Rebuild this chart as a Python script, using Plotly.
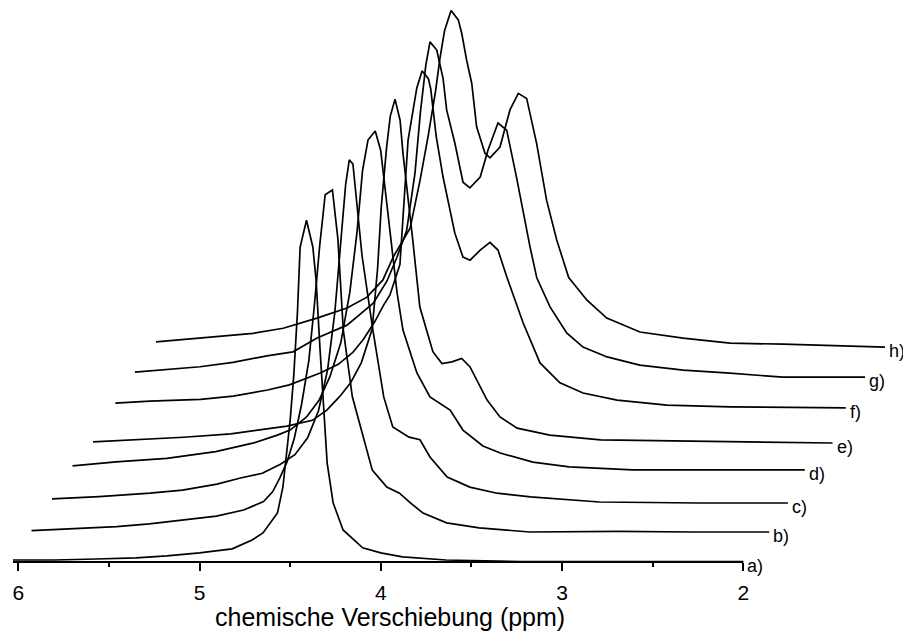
import plotly.graph_objects as go

# Spectrum labels (bottom to top)
labels = ["a)", "b)", "c)", "d)", "e)", "f)", "g)", "h)"]

# Each spectrum: chemical shift (ppm, own scale) and normalised intensity (main peak = 100)
ppm_a = [6.03, 5.80, 5.57, 5.35, 5.18, 5.00, 4.82, 4.71, 4.65, 4.57, 4.54, 4.50, 4.48, 4.46, 4.445,
         4.41, 4.375, 4.357, 4.335, 4.324, 4.296, 4.263, 4.208, 4.10, 4.00, 3.88, 3.64, 3.23, 2.80, 2.40, 2.00]
int_a = [0, 0, 0.3, 0.6, 1.2, 2.1, 3.3, 5.9, 8.0, 13.9, 21.6, 41.4, 54.7, 73.1, 92.6,
         100.5, 92.6, 82.8, 62.1, 53.3, 28.7, 16.9, 8.9, 3.6, 2.1, 0.9, 0, -0.5, -0.4, -0.5, -0.5]

ppm_b = [6.04, 5.85, 5.57, 5.39, 5.20, 5.02, 4.87, 4.76, 4.71, 4.67, 4.63, 4.59, 4.55, 4.51, 4.48, 4.45,
         4.42, 4.38, 4.35, 4.32, 4.27, 4.21, 4.16, 4.08, 4.01, 3.95, 3.88, 3.75, 3.57, 3.29, 2.80, 2.40, 1.97]
int_b = [-0.4, 0, 0.8, 1.6, 2.8, 3.9, 5.7, 8.2, 11.1, 15.2, 20, 27, 37, 50, 66, 84,
         99, 100.4, 86, 59, 39.2, 27.4, 17.5, 12.5, 10.7, 7.8, 4.8, 1.9, 0.4, -0.8, -0.6, -0.8, -0.8]

ppm_c = [6.04, 5.78, 5.50, 5.32, 5.13, 5.00, 4.88, 4.78, 4.70, 4.63, 4.57, 4.52, 4.48, 4.45, 4.42, 4.40,
         4.38, 4.33, 4.27, 4.21, 4.16, 4.07, 4.01, 3.955, 3.86, 3.735, 3.585, 3.40, 3.02, 2.47, 1.98]
int_c = [-0.1, 0.6, 1.6, 2.5, 4.3, 6.1, 7.5, 10.2, 13, 18, 26, 38, 55, 75, 93, 100.2,
         99, 72, 49.9, 30.1, 21.2, 18.2, 17.4, 12.3, 6.4, 3.4, 1.6, 0.5, -1.0, -1.3, -1.3]

ppm_d = [6.04, 5.80, 5.52, 5.25, 5.04, 4.91, 4.84, 4.75, 4.68, 4.62, 4.56, 4.51, 4.47, 4.44, 4.41, 4.37,
         4.34, 4.30, 4.25, 4.217, 4.16, 4.14, 4.068, 3.996, 3.957, 3.886, 3.776, 3.68, 3.50, 3.30, 2.95, 2.41, 2.00]
int_d = [0.6, 1.8, 2.8, 4.8, 7.4, 9.7, 11.2, 15, 20, 27, 37, 52, 70, 88, 97, 99.7,
         94, 75, 52, 40.8, 31, 28.1, 21, 18.6, 17.1, 11.2, 6.5, 4.4, 1.7, 0.3, -0.6, -0.6, -0.6]

ppm_e = [6.04, 5.82, 5.54, 5.28, 5.13, 4.97, 4.83, 4.75, 4.68, 4.62, 4.56, 4.50, 4.47, 4.45, 4.42, 4.40,
         4.374, 4.346, 4.33, 4.308, 4.276, 4.237, 4.20, 4.165, 4.115, 4.06, 4.006, 3.96, 3.866, 3.795,
         3.70, 3.52, 3.24, 2.69, 1.96]
int_e = [-1.4, -0.8, 0, 1.0, 2.2, 3.3, 5, 8, 12, 16, 22, 32, 50, 68, 86, 95,
         100, 93.8, 84, 74, 58.3, 38.5, 31.7, 25.3, 21.8, 22.3, 23.3, 20.8, 11, 6,
         2.7, 0.65, -0.8, -1.1, -1.7]

ppm_f = [6.03, 5.84, 5.56, 5.38, 5.19, 5.07, 4.90, 4.80, 4.72, 4.66, 4.60, 4.55, 4.515, 4.46, 4.415,
         4.388, 4.367, 4.338, 4.303, 4.29, 4.26, 4.222, 4.157, 4.112, 4.073, 4.017, 3.963, 3.919, 3.87,
         3.78, 3.687, 3.577, 3.45, 3.262, 2.987, 2.64, 2.00]
int_f = [1.0, 1.6, 2.1, 3.1, 4.9, 6.4, 9.9, 12.5, 16, 20, 25, 30, 33, 42, 78.8,
         87.7, 94.2, 99.3, 97, 94, 80, 67.9, 51.3, 44.2, 43.3, 46.3, 48.6, 46.3, 38.3,
         24.7, 12.9, 7.0, 4.0, 1.9, 0.4, -0.1, -0.4]

ppm_g = [6.035, 5.86, 5.676, 5.494, 5.307, 5.163, 5.03, 4.865, 4.72, 4.645, 4.59, 4.536, 4.49, 4.46,
         4.43, 4.407, 4.37, 4.335, 4.315, 4.27, 4.225, 4.187, 4.13, 4.087, 4.032, 3.984, 3.93, 3.855,
         3.818, 3.745, 3.653, 3.563, 3.43, 3.25, 3.01, 2.752, 2.46, 2.007]
int_g = [1.1, 1.9, 2.7, 4.0, 5.9, 7.1, 11.2, 15, 21.5, 28, 35, 43, 60, 78,
         92, 98.8, 96.4, 88, 78.6, 68.9, 57.3, 55.6, 58.8, 66.8, 74.8, 72.7, 58.8, 38.1,
         29, 20.4, 12.7, 8.5, 5.6, 3.2, 1.7, 0.8, -0.4, -0.4]

ppm_h = [6.032, 5.863, 5.70, 5.497, 5.33, 5.144, 4.978, 4.868, 4.78, 4.724, 4.63, 4.575, 4.53, 4.49,
         4.465, 4.44, 4.404, 4.364, 4.345, 4.318, 4.29, 4.263, 4.217, 4.189, 4.134, 4.079, 4.033, 3.987,
         3.932, 3.877, 3.821, 3.755, 3.654, 3.545, 3.362, 3.124, 2.865, 2.572, 2.01]
int_h = [1.0, 1.7, 2.5, 3.5, 5.0, 8, 11, 14.2, 19.3, 26, 34.6, 48.8, 62, 75,
         85, 93, 99, 96.2, 92.2, 84.3, 77.5, 64.6, 56.8, 55.4, 58.6, 69.6, 74.5, 73,
         59.7, 42.9, 31.1, 20, 13.3, 8, 3.9, 2.1, 0.6, 0.3, -0.6]

spectra_ppm = [ppm_a, ppm_b, ppm_c, ppm_d, ppm_e, ppm_f, ppm_g, ppm_h]
spectra_int = [int_a, int_b, int_c, int_d, int_e, int_f, int_g, int_h]

# Axis ticks
major_ticks = [6, 5, 4, 3, 2]
major_text = ["6", "5", "4", "3", "2"]
minor_ticks = [5.5, 4.5, 3.5, 2.5]

# Waterfall offsets per spectrum
DX = 0.1131
DY = 9.08

X_LEFT = 6.0292
X_RIGHT = 1.1906

FONT = "Liberation Sans, Arial, sans-serif"

fig = go.Figure()
for i, (p, v) in enumerate(zip(spectra_ppm, spectra_int)):
    xs = [pp - i * DX for pp in p]
    ys = [vv + i * DY for vv in v]
    fig.add_trace(go.Scatter(x=xs, y=ys, mode="lines",
                             line=dict(color="black", width=1.7),
                             hoverinfo="skip", showlegend=False))
    fig.add_annotation(x=xs[-1], y=ys[-1], text=labels[i], showarrow=False,
                       xanchor="left", yanchor="middle", xshift=2, yshift=-4,
                       font=dict(family=FONT, size=18, color="black"))

fig.add_shape(type="line", xref="x", yref="paper", x0=X_LEFT, x1=2.0, y0=0, y1=0,
              line=dict(color="black", width=2))

fig.add_annotation(xref="paper", yref="paper", x=0.43, y=-0.0993,
                   text="chemische Verschiebung (ppm)", showarrow=False,
                   xanchor="center", yanchor="middle",
                   font=dict(family=FONT, size=25, color="black"))

fig.update_layout(
    width=903, height=625,
    margin=dict(l=5, r=21, t=0, b=71, pad=0),
    paper_bgcolor="white", plot_bgcolor="white",
    xaxis=dict(range=[X_LEFT, X_RIGHT], showgrid=False, zeroline=False, showline=False,
               ticks="outside", ticklen=8, tickwidth=1.5, tickcolor="black",
               tickvals=major_ticks, ticktext=major_text,
               tickfont=dict(family=FONT, size=21, color="black"),
               ticklabelstandoff=4,
               minor=dict(tickvals=minor_ticks, ticks="outside", ticklen=4,
                          tickwidth=1.5, tickcolor="black", showgrid=False)),
    yaxis=dict(visible=False, range=[-0.592, 163.31]),
)

fig.write_html("out.html")
